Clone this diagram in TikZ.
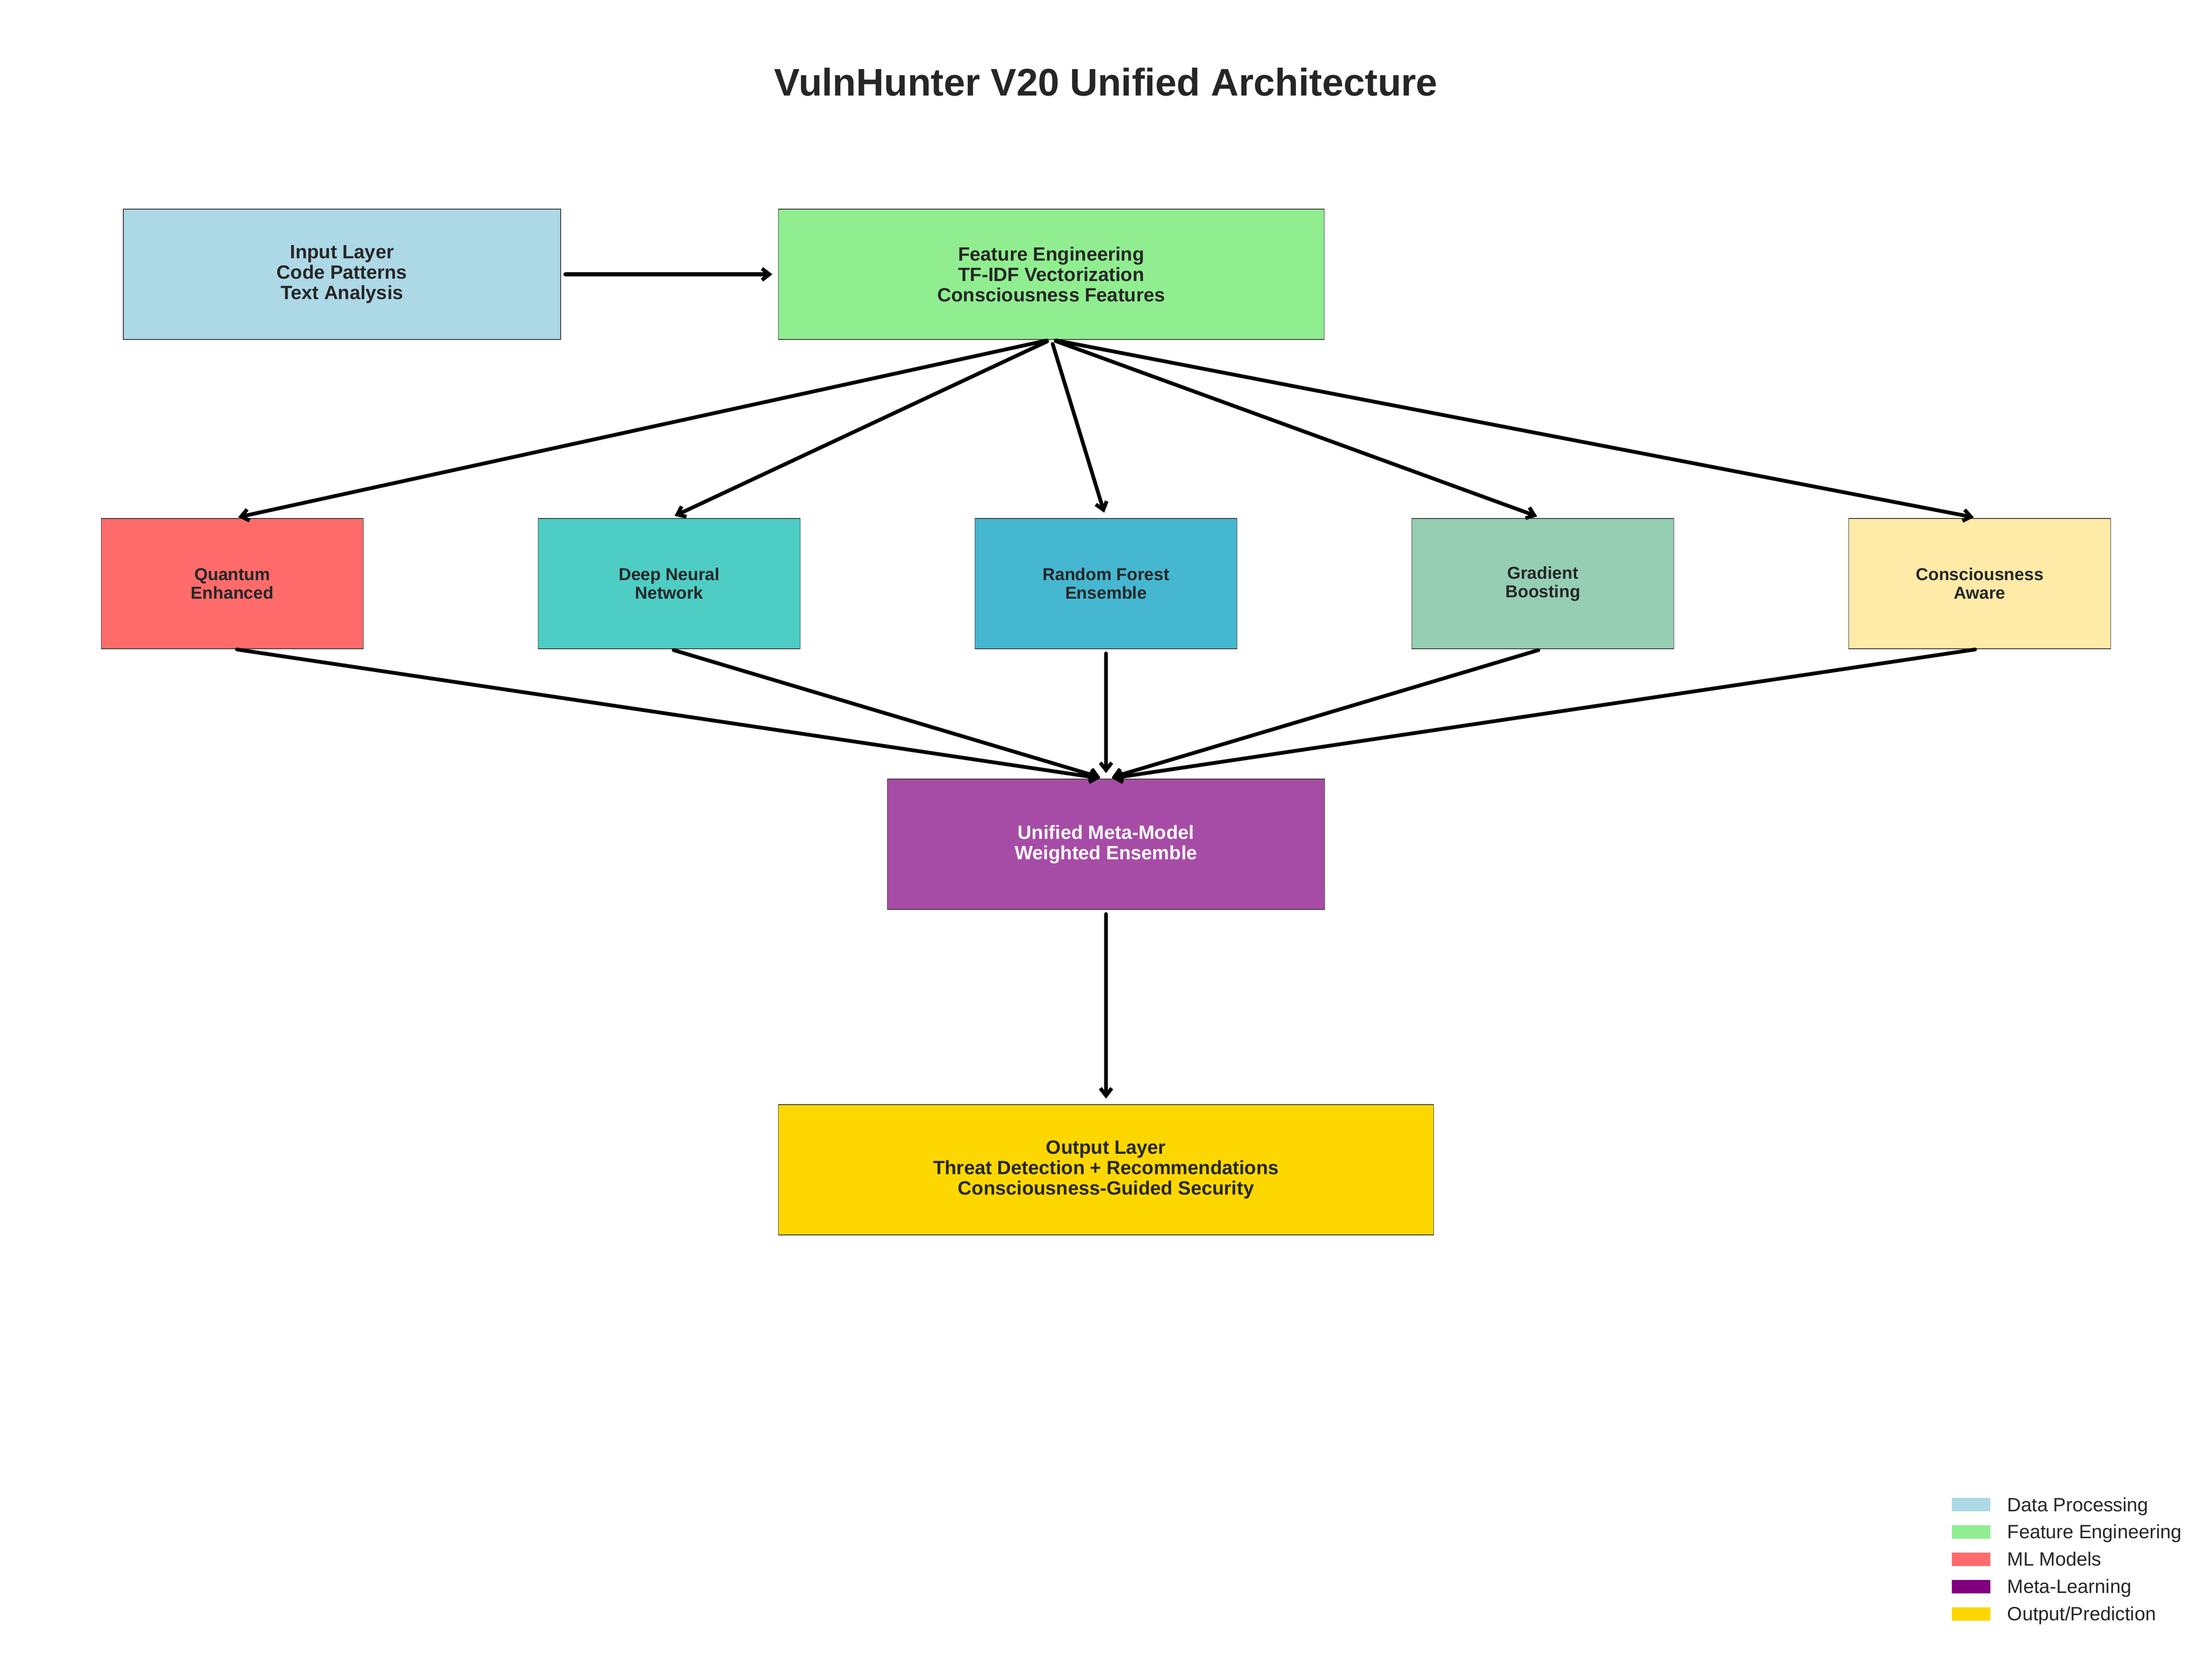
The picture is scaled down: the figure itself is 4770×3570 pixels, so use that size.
\documentclass[tikz,border=0pt]{standalone}
\usepackage{fontspec}
\setmainfont{Liberation Sans}
\usetikzlibrary{arrows.meta}

\definecolor{dataproc}{HTML}{ADD8E6}
\definecolor{featgreen}{HTML}{90EE90}
\definecolor{quantumred}{HTML}{FF6B6B}
\definecolor{dnnteal}{HTML}{4ECDC4}
\definecolor{rfblue}{HTML}{45B7D1}
\definecolor{gbgreen}{HTML}{96CEB4}
\definecolor{consyellow}{HTML}{FFEAA7}
\definecolor{metapurple}{HTML}{800080}
\definecolor{outgold}{HTML}{FFD700}
\definecolor{textgray}{HTML}{262626}

\tikzset{
  layerbox/.style={rectangle, draw=black!75, line width=0.5pt, inner sep=0pt, outer sep=0pt,
    text=textgray, align=center, minimum height=28.1mm, font=\fontsize{11.8}{12.6}\selectfont\bfseries},
  modelbox/.style={layerbox, minimum width=56.5mm, font=\fontsize{10.6}{11.4}\selectfont\bfseries},
  flow/.style={-{Straight Barb[length=4.5pt,width=7pt]}, line width=2.3pt, line cap=round,
    shorten <=1mm, shorten >=1.3mm}
}

\begin{document}
\begin{tikzpicture}[x=0.1mm,y=-0.1mm]
\useasboundingbox (0,0) rectangle (4770,3570);

\node[anchor=base, text=textgray, font=\fontsize{23.6}{28}\selectfont\bfseries] (title) at (2385,206)
  {VulnHunter V20 Unified Architecture};

% top row
\node[layerbox, fill=dataproc, minimum width=94.3mm] (input) at (737.5,591.5)
  {Input Layer\\Code Patterns\\Text Analysis};
\node[layerbox, fill=featgreen, minimum width=117.7mm] (feature) at (2267,591.5)
  {Feature Engineering\\TF-IDF Vectorization\\Consciousness Features};

% models
\foreach \name/\col/\xc/\txt in {quantum/quantumred/501/{Quantum\\Enhanced},
    dnn/dnnteal/1443/{Deep Neural\\Network}, rf/rfblue/2385/{Random Forest\\Ensemble},
    gb/gbgreen/3327/{Gradient\\Boosting}, cons/consyellow/4269/{Consciousness\\Aware}}
  \node[modelbox, fill=\col] (\name) at (\xc,1258.5) {\txt};

\node[layerbox, fill=metapurple!70, text=white, minimum width=94.3mm] (meta) at (2385,1820.5)
  {Unified Meta-Model\\Weighted Ensemble};
\node[layerbox, fill=outgold, minimum width=141.3mm] (output) at (2385,2522.5)
  {Output Layer\\Threat Detection + Recommendations\\Consciousness-Guided Security};

% connections
\draw[flow] (input.east) -- (feature.west);
\foreach \name in {quantum,dnn,rf,gb,cons} {
  \draw[flow] (feature.south) -- (\name.north);
  \draw[flow] (\name.south) -- (meta.north);
}
\draw[flow] (meta.south) -- (output.north);

% legend
\foreach \i/\col/\txt in {0/dataproc/{Data Processing}, 1/featgreen/{Feature Engineering},
    2/quantumred/{ML Models}, 3/metapurple/{Meta-Learning}, 4/outgold/{Output/Prediction}} {
  \fill[\col] (4209,3230+58.9*\i) rectangle (4292,3259+58.9*\i);
  \node[anchor=base west, inner sep=0pt, text=textgray, font=\fontsize{11.8}{14}\selectfont]
    (leg\i) at (4328,3259+58.9*\i) {\txt};
}
\end{tikzpicture}
\end{document}
